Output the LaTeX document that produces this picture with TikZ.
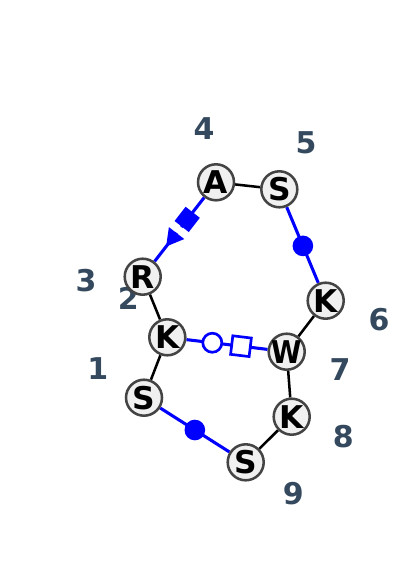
\documentclass[tikz,border=0pt]{standalone}
\usepackage{fontspec}
\setmainfont{DejaVu Sans}
\usetikzlibrary{calc,backgrounds}
\definecolor{lab}{RGB}{52,73,94}
\definecolor{nfill}{RGB}{240,240,240}
\definecolor{nborder}{RGB}{68,68,68}
\newcommand{\resl}[1]{\makebox[0pt]{#1}}
\begin{document}
\begin{tikzpicture}[x=0.75pt,y=-0.75pt,
 res/.style={circle, draw=nborder, fill=nfill, line width=1.9pt, minimum size=27pt, inner sep=0pt, font=\fontsize{23.5}{23.5}\selectfont\bfseries},
 num/.style={text=lab, inner sep=0pt, font=\fontsize{22.5}{22.5}\selectfont\bfseries},
 bond/.style={line width=1.9pt, black},
 link/.style={line width=2.3pt, blue},
 dot/.style={circle, fill=blue, minimum size=15.5pt, inner sep=0pt},
 ocirc/.style={circle, draw=blue, fill=white, line width=2pt, minimum size=14.3pt, inner sep=0pt},
 osq/.style={rectangle, draw=blue, fill=white, line width=2pt, minimum size=14pt, inner sep=0pt, sloped, allow upside down},
 fsq/.style={rectangle, fill=blue, minimum size=13.5pt, inner sep=0pt, sloped, allow upside down}]
\useasboundingbox (0,0) rectangle (400,577);
% residues
\node[res] (A)  at (216,182.3) {\resl{A}};
\node[res] (S5) at (279.3,189.3) {\resl{S}};
\node[res] (R)  at (142.7,276.7) {\resl{R}};
\node[res] (K6) at (325.7,300.7) {\resl{K}};
\node[res] (K)  at (167.3,337.3) {\resl{K}};
\node[res] (W)  at (286.7,351.7) {\resl{\scalebox{0.88}[1]{W}}};
\node[res] (S1) at (144,397.7) {\resl{S}};
\node[res] (K8) at (291.7,416.7) {\resl{K}};
\node[res] (S9) at (245.7,462.3) {\resl{S}};
\begin{scope}[on background layer]
% numbers
\node[num] (n1) at (97.7,369) {1};
\node[num] (n2) at (128.3,298.3) {2};
\node[num] (n3) at (86,280.7) {3};
\node[num] (n4) at (204,128.3) {4};
\node[num] (n5) at (306,142.3) {5};
\node[num] (n6) at (379,319.3) {6};
\node[num] (n7) at (340,370) {7};
\node[num] (n8) at (343.3,436.7) {8};
\node[num] (n9) at (293.3,493.3) {9};
% black bonds
\draw[bond] (A) -- (S5);
\draw[bond] (R) -- (K);
\draw[bond] (K) -- (S1);
\draw[bond] (K6) -- (W);
\draw[bond] (W) -- (K8);
\draw[bond] (K8) -- (S9);
% blue links
\draw[link] (A) -- (R);
\draw[link] (S5) -- (K6);
\draw[link] (K) -- (W);
\draw[link] (S1) -- (S9);
% A-R decorations
\coordinate (g1) at ($(A.center)!0.475!(R.center)$);
\coordinate (g2) at ($(A.center)!0.535!(R.center)$);
\draw[white, line width=3pt] (g1) -- (g2);
\path (A.center) -- (R.center) node[fsq, pos=0.393] (sqAR) {};
\coordinate (tb) at ($(A.center)!0.538!(R.center)$);
\coordinate (tt) at ($(A.center)!0.68!(R.center)$);
\fill[blue] (tt) -- ($(tb)!7.3pt!90:(R.center)$) -- ($(tb)!7.3pt!-90:(R.center)$) -- cycle;
% other markers
\path (S5.center) -- (K6.center) node[dot, pos=0.508] (d1) {};
\path (S1.center) -- (S9.center) node[dot, pos=0.5] (d2) {};
\path (K.center) -- (W.center) node[ocirc, pos=0.377] (oc) {};
\path (K.center) -- (W.center) node[osq, pos=0.617] (os) {};
\end{scope}
\end{tikzpicture}
\end{document}
